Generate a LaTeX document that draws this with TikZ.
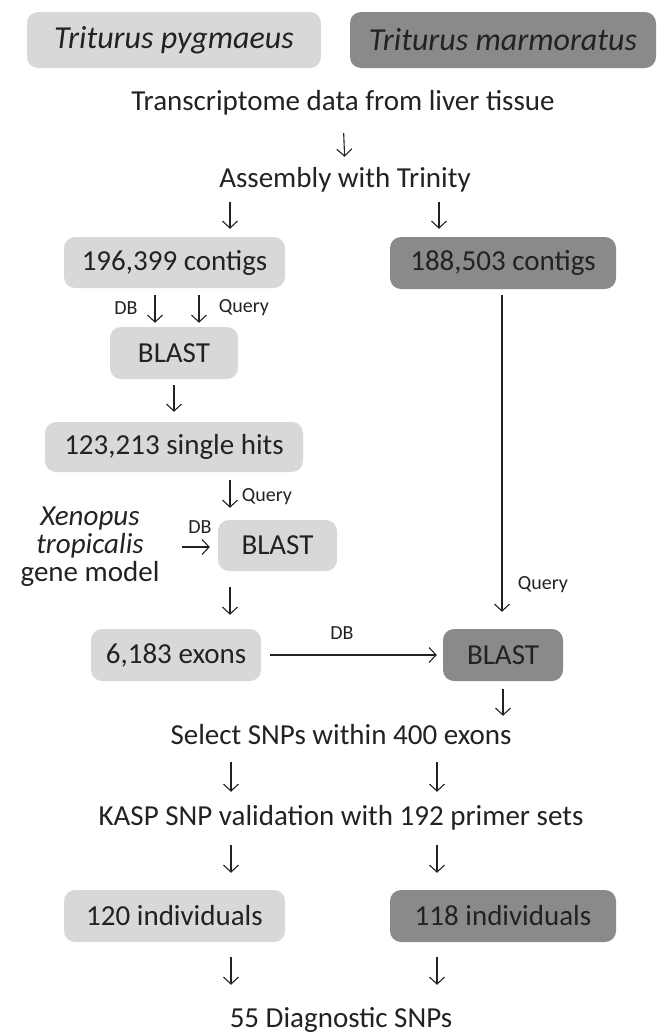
\documentclass[tikz,border=0pt]{standalone}
\usepackage{fontspec}
\setmainfont{Carlito}
\usetikzlibrary{arrows.meta}
\definecolor{lightbox}{HTML}{D8D8D8}
\definecolor{darkbox}{HTML}{8A8A8A}
\definecolor{ink}{HTML}{222222}
\begin{document}
\begin{tikzpicture}[x=1pt,y=-1pt,
  box/.style={rounded corners=11pt, inner sep=0pt, text=ink, font=\fontsize{29}{34}\selectfont},
  lbox/.style={box, fill=lightbox},
  dbox/.style={box, fill=darkbox},
  txt/.style={inner sep=0pt, text=ink, text height=20pt, text depth=6pt, font=\fontsize{29}{34}\selectfont},
  lbl/.style={inner sep=0pt, text=ink, font=\fontsize{20}{24}\selectfont},
  arr/.style={draw=ink, line width=1.1pt, -{Straight Barb[length=7pt,width=15pt]}},
]
\useasboundingbox (0,0) rectangle (657,1036);
\coordinate (cL) at (230,0);
\coordinate (cR) at (439,0);

% species boxes
\node[lbox, minimum width=294pt, minimum height=56pt, font=\fontsize{32}{36}\selectfont\itshape] (sp1) at (174,40) {Triturus pygmaeus};
\node[dbox, minimum width=306pt, minimum height=56pt, font=\fontsize{32}{36}\selectfont\itshape] (sp2) at (503,40) {Triturus marmoratus};

% main texts
\node[txt] (tr) at (343,103) {Transcriptome data from liver tissue};
\node[txt] (as) at (345,180) {Assembly with Trinity};

\node[lbox, minimum width=221pt, minimum height=51pt] (lc) at (174.5,262.5) {196,399 contigs};
\node[dbox, minimum width=226pt, minimum height=52pt] (rc) at (503,263) {188,503 contigs};

\node[lbox, minimum width=128pt, minimum height=52pt] (b1) at (174,353) {BLAST};
\node[lbox, minimum width=258pt, minimum height=50pt] (sh) at (174,447) {123,213 single hits};

\node[inner sep=0pt, text=ink, align=center, font=\fontsize{29}{28}\selectfont] (xen) at (90,547) {{\itshape Xenopus}\\{\itshape tropicalis}\\gene model};
\node[lbox, minimum width=119pt, minimum height=51pt] (b2) at (277.5,545.5) {BLAST};

\node[lbox, minimum width=170pt, minimum height=52pt] (ex) at (176,655) {6,183 exons};
\node[dbox, minimum width=120pt, minimum height=52pt] (b3) at (503,655) {BLAST};

\node[txt] (sel) at (341,737) {Select SNPs within 400 exons};
\node[txt] (kasp) at (341,818) {KASP SNP validation with 192 primer sets};

\node[lbox, minimum width=221pt, minimum height=52pt] (i1) at (174.5,916) {120 individuals};
\node[dbox, minimum width=226pt, minimum height=52pt] (i2) at (503,916) {118 individuals};

\node[txt] (diag) at (341,1020) {55 Diagnostic SNPs};

% small labels
\node[lbl] (l1) at (126,308) {DB};
\node[lbl] (l2) at (244,308) {Query};
\node[lbl] (l3) at (267,497) {Query};
\node[lbl] (l4) at (200,527) {DB};
\node[lbl] (l5) at (342,633) {DB};
\node[lbl] (l6) at (543,585) {Query};

% connectors
\draw[arr, shorten <=17pt, shorten >=10pt] (tr.south) -- (as.north);
\draw[arr, shorten <=9pt, shorten >=8pt] (as.south -| cL) -- (lc.north -| cL);
\draw[arr, shorten <=9pt, shorten >=8pt] (as.south -| cR) -- (rc.north -| cR);
\coordinate (d1) at (155,0);
\coordinate (d2) at (199,0);
\draw[arr, shorten <=7pt, shorten >=4pt] (lc.south -| d1) -- (b1.north -| d1);
\draw[arr, shorten <=7pt, shorten >=4pt] (lc.south -| d2) -- (b1.north -| d2);
\draw[arr, shorten <=6pt, shorten >=10pt] (b1.south) -- (sh.north -| b1);
\draw[arr, shorten <=8pt, shorten >=12pt] (sh.south -| cL) -- (b2.north -| cL);
\coordinate (xa) at (182,547);
\draw[arr, shorten >=8pt] (xa) -- (b2.west |- xa);
\draw[arr, shorten <=16pt, shorten >=14pt] (b2.south -| cL) -- (ex.north -| cL);
\draw[arr, shorten <=9pt, shorten >=6pt] (ex.east) -- (b3.west);
\coordinate (cq) at (502,0);
\draw[arr, shorten <=6pt, shorten >=17pt] (rc.south -| cq) -- (b3.north -| cq);
\draw[arr, shorten <=8pt, shorten >=8pt] (b3.south) -- (sel.north -| b3);
\coordinate (kL) at (231,0);
\coordinate (kR) at (437,0);
\draw[arr, shorten <=12pt, shorten >=13pt] (sel.south -| kL) -- (kasp.north -| kL);
\draw[arr, shorten <=12pt, shorten >=13pt] (sel.south -| kR) -- (kasp.north -| kR);
\draw[arr, shorten <=14pt, shorten >=17pt] (kasp.south -| kL) -- (i1.north -| kL);
\draw[arr, shorten <=14pt, shorten >=17pt] (kasp.south -| kR) -- (i2.north -| kR);
\draw[arr, shorten <=15pt, shorten >=22pt] (i1.south -| kL) -- (diag.north -| kL);
\draw[arr, shorten <=15pt, shorten >=22pt] (i2.south -| kR) -- (diag.north -| kR);
\end{tikzpicture}
\end{document}
